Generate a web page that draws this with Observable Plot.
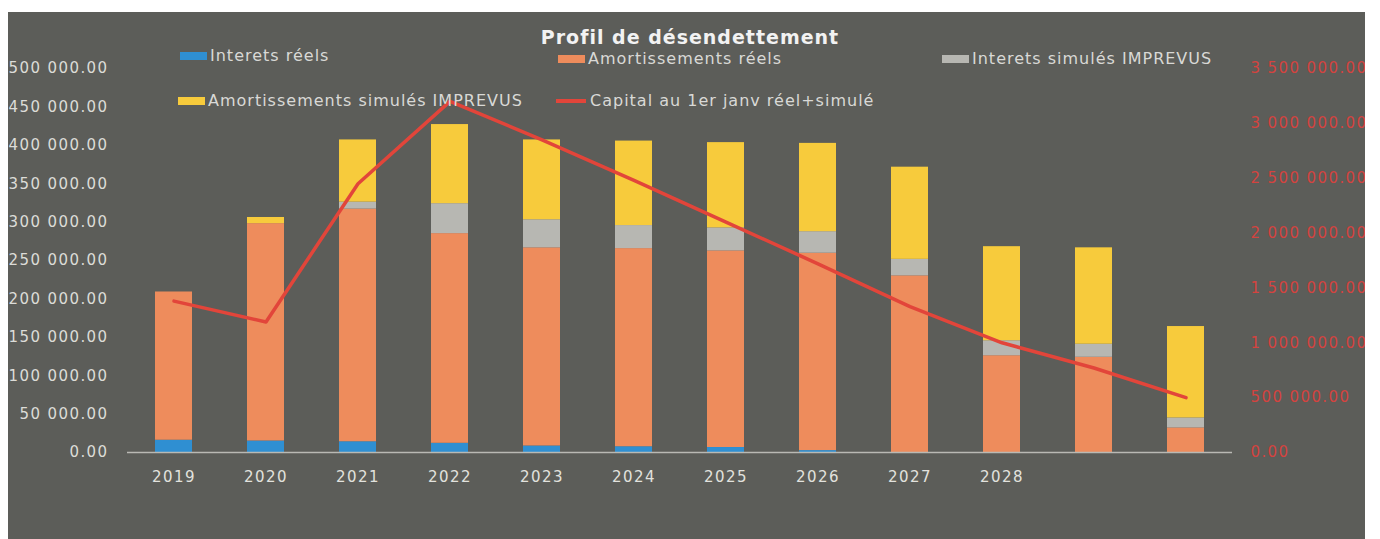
<!DOCTYPE html>
<html>
<head>
<meta charset="utf-8">
<script src="https://cdn.jsdelivr.net/npm/d3@7"></script>
<script src="https://cdn.jsdelivr.net/npm/@observablehq/plot@0.6"></script>
<style>
  body { margin: 0; background: #ffffff; }
  #wrap { position: relative; width: 1380px; height: 539px; overflow: hidden; background: #ffffff; }
  #bg { position: absolute; left: 8px; top: 12px; width: 1357px; height: 527px; background: #5c5d59; }
  #chart { position: absolute; left: 0; top: 0; }
  #rightWhite { position: absolute; left: 1365px; top: 0; width: 15px; height: 539px; background: #ffffff; }
  #title { position: absolute; left: 0; width: 1380px; text-align: center; top: 26px; font: bold 19px "DejaVu Sans", sans-serif; letter-spacing: 1px; color: #f2f2f2; }
  .leg { position: absolute; font: 16px "DejaVu Sans", sans-serif; color: #d9d9d6; letter-spacing: 1px; white-space: nowrap; display: flex; align-items: center; }
  .sw { display: inline-block; width: 27px; height: 8px; margin-right: 3px; }
  .ln { display: inline-block; width: 30px; height: 4px; margin-right: 4px; }
</style>
</head>
<body>
<div id="wrap">
  <div id="bg"></div>
  <div id="chart"></div>
  <div id="title">Profil de désendettement</div>
  <div id="legend"></div>
  <div id="rightWhite"></div>
</div>
<script>
// ---- Data ----
const years = ["2019","2020","2021","2022","2023","2024","2025","2026","2027","2028","2029","2030"];
const xTickLabels = ["2019","2020","2021","2022","2023","2024","2025","2026","2027","2028","",""];
const interetsReels      = [16000, 15000, 14000, 12000, 8500, 7500, 6500, 2500, 0, 0, 0, 0];
const amortReels         = [193000, 283000, 303000, 273000, 258000, 258000, 256000, 257000, 230000, 126000, 124000, 32000];
const interetsSimules    = [0, 0, 9000, 39000, 36500, 30000, 30000, 28000, 21500, 19500, 17000, 13000];
const amortSimules       = [0, 8000, 81000, 103000, 104000, 110000, 111000, 115000, 120000, 122500, 125500, 119000];
const capital            = [1380000, 1190000, 2450000, 3200000, 2850000, 2480000, 2100000, 1720000, 1330000, 1000000, 770000, 500000];
const leftTicks  = [0, 50000, 100000, 150000, 200000, 250000, 300000, 350000, 400000, 450000, 500000];
const rightTicks = [0, 500000, 1000000, 1500000, 2000000, 2500000, 3000000, 3500000];

const seriesNames  = ["Interets réels", "Amortissements réels", "Interets simulés IMPREVUS", "Amortissements simulés IMPREVUS"];
const seriesColors = ["#2f8fd2", "#ee8c5c", "#b7b7b2", "#f7cb3c"];
const lineName = "Capital au 1er janv réel+simulé";
const lineColor = "#e2453a";

// ratio between right axis and left axis
const ratio = 7;

const seriesArrays = [interetsReels, amortReels, interetsSimules, amortSimules];
const barData = [];
years.forEach((y, i) => {
  seriesArrays.forEach((arr, s) => barData.push({year: y, series: seriesNames[s], value: arr[i]}));
});
const lineData = years.map((y, i) => ({year: y, cap: capital[i]}));

const loc = d3.formatLocale({decimal: ".", thousands: " ", grouping: [3], currency: ["", ""]});
const fmt = loc.format(",.2f");

const chart = Plot.plot({
  width: 1380,
  height: 539,
  marginTop: 68,
  marginBottom: 87,
  marginLeft: 127,
  marginRight: 148,
  style: {background: "transparent", fontFamily: "DejaVu Sans, sans-serif", fontSize: "15px", letterSpacing: "1.4px"},
  x: {domain: years, paddingInner: 0.6, paddingOuter: 0.3, axis: null, label: null},
  y: {domain: [0, 500000], axis: null, label: null},
  color: {domain: seriesNames, range: seriesColors},
  marks: [
    Plot.axisY({ticks: leftTicks, tickFormat: fmt, tickSize: 0, tickPadding: 19, color: "#dcdcd8", fontSize: 15, anchor: "left", label: null}),
    Plot.axisY({ticks: rightTicks.map(v => v / ratio), tickFormat: v => fmt(Math.round(v * ratio)), tickSize: 0, tickPadding: 18, color: "#d4433f", fontSize: 15, anchor: "right", label: null}),
    Plot.axisX({tickFormat: (d) => xTickLabels[years.indexOf(d)], tickSize: 0, tickPadding: 19, color: "#e2e2de", fontSize: 15, anchor: "bottom", label: null}),
    Plot.barY(barData, {x: "year", y: "value", fill: "series"}),
    Plot.ruleY([0], {stroke: "#b9b9b4", strokeWidth: 1.5}),
    Plot.line(lineData, {x: "year", y: d => d.cap / ratio, stroke: lineColor, strokeWidth: 3.5})
  ]
});
document.getElementById("chart").appendChild(chart);

// ---- Legend (HTML) ----
const legend = document.getElementById("legend");
const legendItems = [
  {name: seriesNames[0], color: seriesColors[0], left: 180, top: 46, type: "sw"},
  {name: seriesNames[1], color: seriesColors[1], left: 558, top: 49, type: "sw"},
  {name: seriesNames[2], color: seriesColors[2], left: 942, top: 49, type: "sw"},
  {name: seriesNames[3], color: seriesColors[3], left: 178, top: 91, type: "sw"},
  {name: lineName, color: lineColor, left: 556, top: 91, type: "ln"}
];
legendItems.forEach(it => {
  const d = document.createElement("div");
  d.className = "leg";
  d.style.left = it.left + "px";
  d.style.top = it.top + "px";
  const s = document.createElement("span");
  s.className = it.type;
  s.style.background = it.color;
  d.appendChild(s);
  d.appendChild(document.createTextNode(it.name));
  legend.appendChild(d);
});
</script>
</body>
</html>
